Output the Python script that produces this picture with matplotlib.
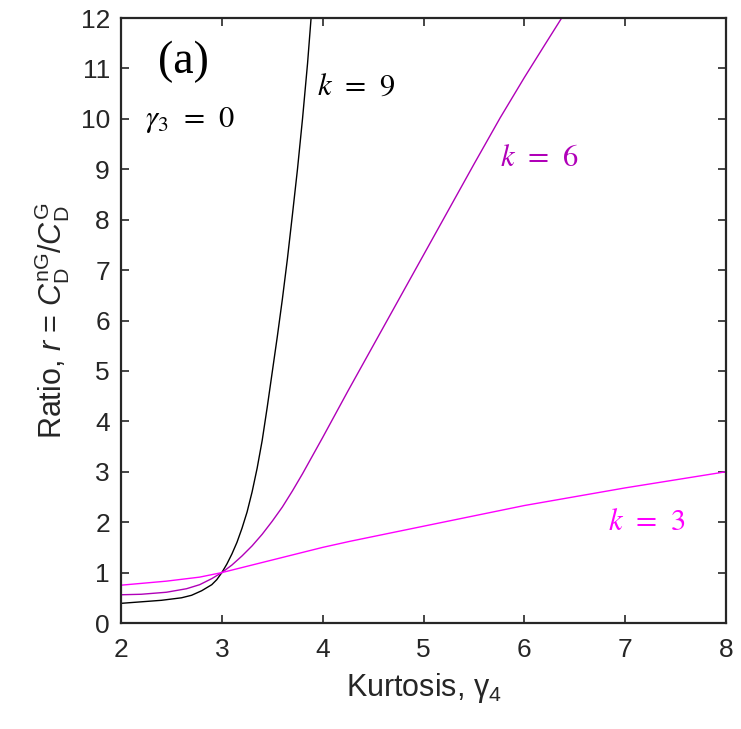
import matplotlib
matplotlib.use("Agg")
import matplotlib.pyplot as plt

plt.rcParams['font.family'] = ['Liberation Sans', 'DejaVu Sans']
plt.rcParams['mathtext.fontset'] = 'custom'
plt.rcParams['mathtext.rm'] = 'Liberation Sans'
plt.rcParams['mathtext.it'] = 'Liberation Sans:italic'

# curves: kurtosis gamma_4 vs ratio r
g4_k9 = [2.0, 2.2, 2.4, 2.6, 2.7, 2.8, 2.9, 2.95, 3.0, 3.05, 3.1, 3.15, 3.2, 3.25,
         3.3, 3.35, 3.4, 3.45, 3.5, 3.55, 3.6, 3.65, 3.7, 3.75, 3.8, 3.85, 3.885]
r_k9 = [0.39, 0.42, 0.45, 0.50, 0.55, 0.64, 0.76, 0.86, 1.0, 1.17, 1.37, 1.60, 1.88, 2.20,
        2.60, 3.07, 3.62, 4.28, 4.98, 5.68, 6.42, 7.22, 8.1, 9.0, 10.0, 11.1, 12.0]

g4_k6 = [2.0, 2.2, 2.45, 2.65, 2.78, 2.9, 3.0, 3.1, 3.2, 3.3, 3.4, 3.5, 3.6, 3.7, 3.8,
         3.9, 4.0, 4.25, 4.5, 5.0, 5.25, 5.5, 5.76, 6.0, 6.2, 6.37]
r_k6 = [0.56, 0.57, 0.61, 0.68, 0.76, 0.88, 1.0, 1.15, 1.33, 1.53, 1.76, 2.02, 2.30, 2.62, 2.96,
        3.32, 3.68, 4.6, 5.5, 7.3, 8.2, 9.1, 10.02, 10.82, 11.46, 12.0]

g4_k3 = [2.0, 2.45, 2.78, 3.0, 3.5, 4.0, 4.27, 5.0, 6.0, 7.0, 8.0]
r_k3 = [0.75, 0.83, 0.91, 1.0, 1.25, 1.5, 1.62, 1.92, 2.33, 2.68, 3.0]

c_k9 = 'black'
c_k6 = '#b000b8'
c_k3 = '#ff00ff'

fig = plt.figure(figsize=(7.41, 7.29), dpi=100)
ax = fig.add_axes([0.1633, 0.1454, 0.8165, 0.8299])

ax.plot(g4_k9, r_k9, color=c_k9, lw=1.0)
ax.plot(g4_k6, r_k6, color=c_k6, lw=1.0)
ax.plot(g4_k3, r_k3, color=c_k3, lw=1.0)

ax.set_xlim(2, 8)
ax.set_ylim(0, 12)
ax.set_xticks(range(2, 9))
ax.set_yticks(range(0, 13))
ax.tick_params(direction='in', top=True, right=True, length=6, width=1.2,
               labelsize=19, colors='#262626')
ax.tick_params(axis='x', pad=11)
ax.tick_params(axis='y', pad=8)
for sp in ax.spines.values():
    sp.set_linewidth(1.6)
    sp.set_color('#262626')

ax.set_xlabel(r'Kurtosis, $\mathrm{\gamma}_4$', fontsize=22, color='#262626', labelpad=6)
ax.set_ylabel(r'Ratio, $r$ = $C_\mathrm{D}^\mathrm{nG}/C_\mathrm{D}^\mathrm{G}$',
              fontsize=22, color='#262626', labelpad=6)

ax.text(2.615, 11.13, '(a)', family='Liberation Serif', fontsize=33,
        ha='center', va='center')
ax.text(2.24, 9.98, r'$\gamma_3\;\,=\;\,0$', math_fontfamily='stix', fontsize=22,
        ha='left', va='center')
ax.text(3.94, 10.63, r'$k\;\,=\;\,9$', math_fontfamily='stix', fontsize=22,
        ha='left', va='center', color=c_k9)
ax.text(5.76, 9.23, r'$k\;\,=\;\,6$', math_fontfamily='stix', fontsize=22,
        ha='left', va='center', color=c_k6)
ax.text(6.83, 2.0, r'$k\;\,=\;\,3$', math_fontfamily='stix', fontsize=22,
        ha='left', va='center', color=c_k3)

fig.savefig('out.png', dpi=100)
